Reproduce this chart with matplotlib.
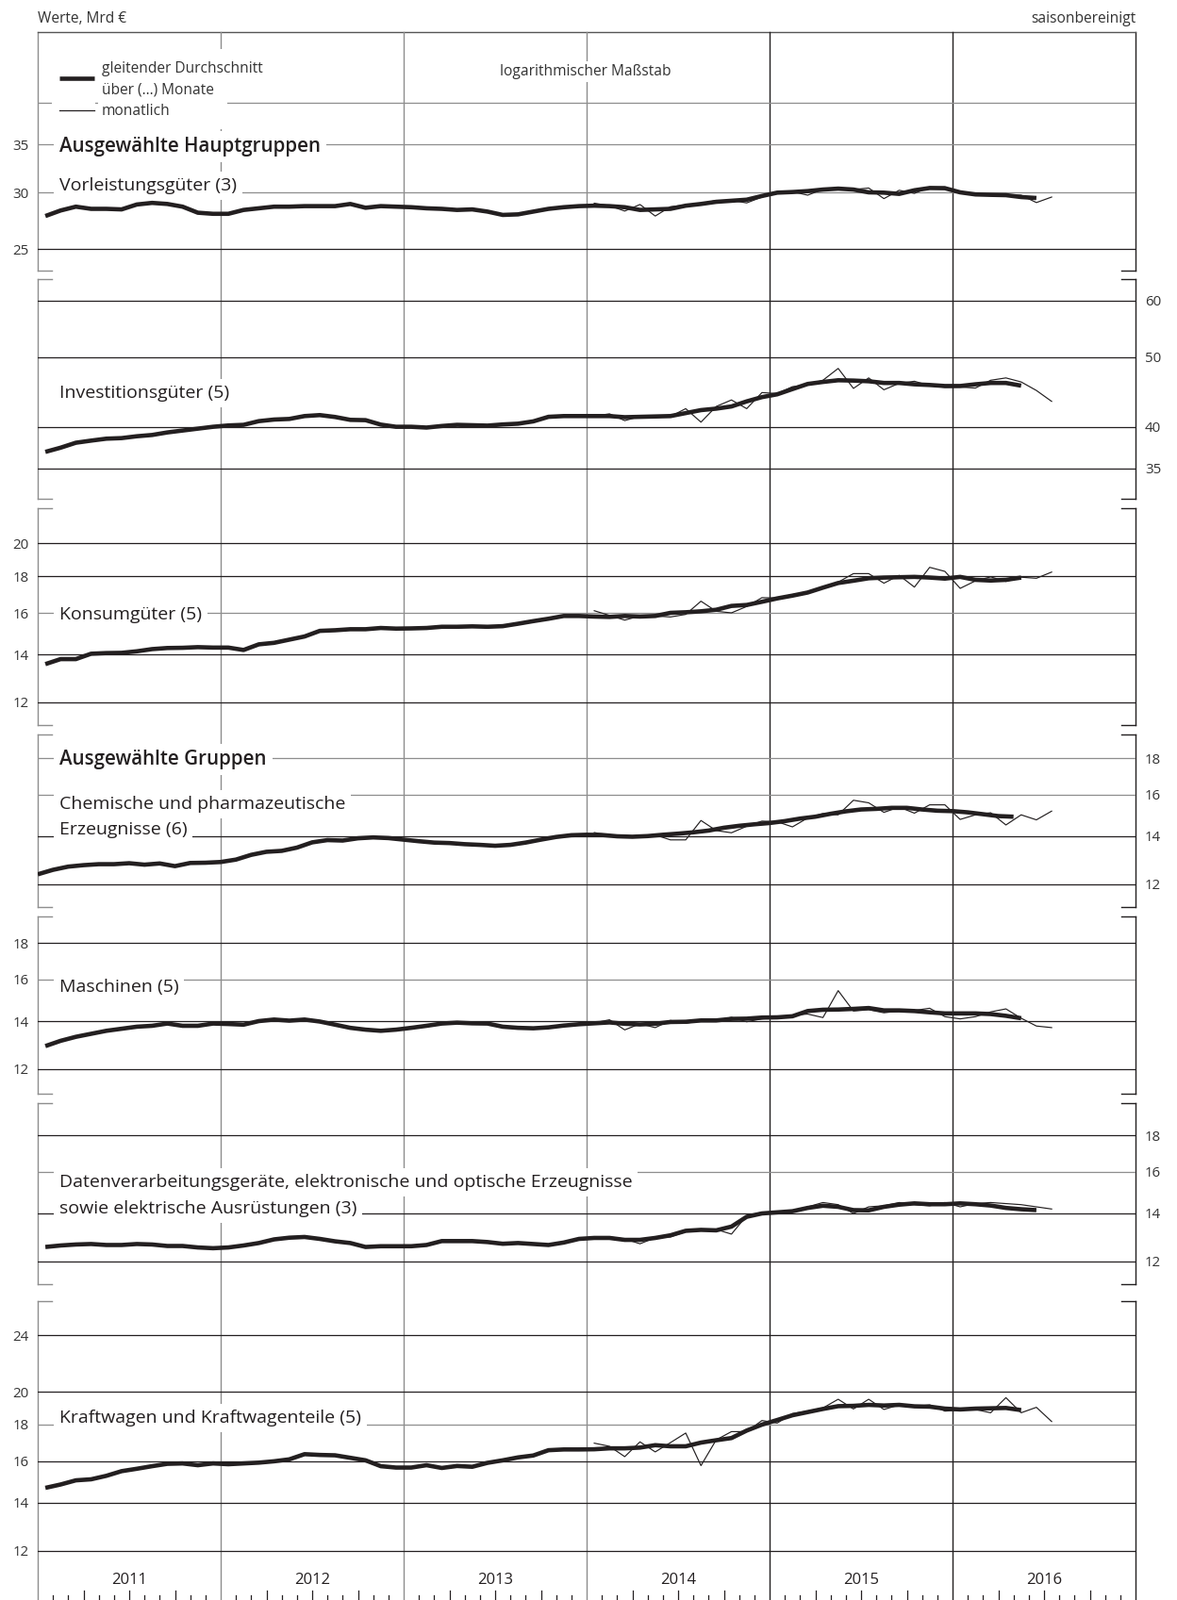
import matplotlib
matplotlib.use("Agg")
import matplotlib.pyplot as plt
import matplotlib.transforms as mtransforms
from matplotlib.patches import Rectangle
import numpy as np

plt.rcParams['font.family'] = ['Open Sans', 'DejaVu Sans']

# ---------------- data (Mrd €, saisonbereinigt) ----------------
years = ["2011", "2012", "2013", "2014", "2015", "2016"]
AVG_START = 0      # moving averages start Jan 2011
MON_START = 36     # monthly values start Jan 2014

vorleistung_avg = [27.8, 28.3, 28.65, 28.45, 28.45, 28.4, 28.85, 29.0, 28.9, 28.65, 28.1, 28.0,
                   28.0, 28.35, 28.5, 28.65, 28.65, 28.7, 28.7, 28.7, 28.9, 28.55, 28.7, 28.65,
                   28.6, 28.5, 28.45, 28.35, 28.4, 28.2, 27.9, 27.95, 28.2, 28.45, 28.6, 28.7,
                   28.74, 28.7, 28.6, 28.35, 28.4, 28.45, 28.74, 28.9, 29.1, 29.2, 29.3, 29.65,
                   29.97, 30.03, 30.12, 30.27, 30.36, 30.27, 30.0, 29.97, 29.85, 30.2, 30.42, 30.4,
                   30.0, 29.8, 29.76, 29.73, 29.55, 29.46]
vorleistung_mon = [28.97, 28.74, 28.25, 28.85, 27.8, 28.65, 28.8, 28.94, 29.23, 29.23, 29.0, 29.55,
                   30.0, 30.06, 29.73, 30.3, 30.46, 30.27, 30.42, 29.4, 30.2, 29.9, 30.52, 30.52,
                   29.9, 29.85, 29.8, 29.73, 29.73, 29.03, 29.55]

investition_avg = [36.9, 37.4, 38.0, 38.26, 38.5, 38.57, 38.8, 38.96, 39.28, 39.52, 39.76, 40.0,
                   40.17, 40.25, 40.73, 40.94, 41.02, 41.4, 41.53, 41.28, 40.9, 40.86, 40.28, 40.0,
                   40.0, 39.9, 40.1, 40.25, 40.2, 40.15, 40.3, 40.4, 40.7, 41.3, 41.4, 41.4,
                   41.4, 41.4, 41.25, 41.3, 41.35, 41.4, 41.8, 42.2, 42.4, 42.7, 43.4, 44.0,
                   44.4, 45.15, 45.9, 46.2, 46.45, 46.4, 46.3, 46.05, 46.05, 45.85, 45.75, 45.6,
                   45.6, 45.85, 46.05, 46.05, 45.65]
investition_mon = [41.4, 41.7, 40.8, 41.35, 41.2, 41.35, 42.4, 40.6, 42.7, 43.6, 42.4, 44.65,
                   44.5, 45.5, 45.75, 46.45, 48.25, 45.25, 46.8, 45.05, 46.0, 46.3, 45.65, 45.4,
                   45.45, 45.3, 46.45, 46.8, 46.2, 44.95, 43.4]

konsum_avg = [13.57, 13.79, 13.79, 14.03, 14.06, 14.07, 14.14, 14.24, 14.29, 14.3, 14.33, 14.31,
              14.31, 14.2, 14.46, 14.53, 14.68, 14.83, 15.1, 15.13, 15.18, 15.18, 15.24, 15.21,
              15.22, 15.24, 15.3, 15.3, 15.32, 15.3, 15.33, 15.45, 15.58, 15.7, 15.84, 15.84,
              15.81, 15.79, 15.84, 15.81, 15.84, 16.0, 16.03, 16.08, 16.16, 16.36, 16.41, 16.58,
              16.76, 16.91, 17.08, 17.35, 17.61, 17.74, 17.88, 17.92, 17.94, 17.96, 17.92, 17.86,
              17.96, 17.79, 17.75, 17.79, 17.92]
konsum_mon = [16.11, 15.87, 15.63, 15.84, 15.84, 15.79, 15.92, 16.61, 16.08, 16.0, 16.33, 16.8,
              16.78, 16.97, 17.08, 17.35, 17.66, 18.15, 18.15, 17.6, 18.05, 17.38, 18.52, 18.28,
              17.31, 17.73, 17.96, 17.7, 17.94, 17.88, 18.24]

chemie_avg = [12.39, 12.57, 12.7, 12.76, 12.8, 12.8, 12.84, 12.78, 12.83, 12.72, 12.85, 12.86,
              12.89, 12.99, 13.19, 13.32, 13.36, 13.5, 13.73, 13.83, 13.81, 13.91, 13.95, 13.92,
              13.85, 13.78, 13.72, 13.7, 13.65, 13.62, 13.58, 13.62, 13.72, 13.85, 13.97, 14.05,
              14.07, 14.06, 14.0, 13.98, 14.01, 14.07, 14.12, 14.18, 14.26, 14.39, 14.48, 14.55,
              14.61, 14.7, 14.82, 14.91, 15.05, 15.17, 15.26, 15.29, 15.34, 15.34, 15.26, 15.2,
              15.18, 15.12, 15.03, 14.94, 14.91]
chemie_mon = [14.17, 14.04, 14.0, 14.03, 14.06, 13.84, 13.84, 14.73, 14.26, 14.16, 14.46, 14.7,
              14.67, 14.43, 14.85, 15.06, 15.0, 15.72, 15.59, 15.12, 15.38, 15.08, 15.49, 15.49,
              14.78, 15.0, 15.1, 14.52, 15.0, 14.76, 15.18]

maschinen_avg = [12.92, 13.14, 13.31, 13.44, 13.57, 13.66, 13.75, 13.79, 13.89, 13.79, 13.79, 13.89,
                 13.87, 13.84, 14.0, 14.07, 14.02, 14.07, 13.98, 13.84, 13.7, 13.62, 13.57, 13.62,
                 13.7, 13.79, 13.89, 13.93, 13.9, 13.89, 13.75, 13.7, 13.68, 13.72, 13.8, 13.86,
                 13.9, 13.94, 13.88, 13.85, 13.88, 13.96, 13.97, 14.03, 14.03, 14.1, 14.11, 14.16,
                 14.17, 14.22, 14.46, 14.52, 14.53, 14.56, 14.6, 14.49, 14.49, 14.46, 14.4, 14.35,
                 14.35, 14.35, 14.32, 14.24, 14.13]
maschinen_mon = [13.92, 14.06, 13.61, 13.88, 13.71, 14.03, 13.9, 14.03, 14.03, 14.17, 13.97, 14.1,
                 14.16, 14.27, 14.32, 14.16, 15.44, 14.46, 14.52, 14.38, 14.46, 14.49, 14.59, 14.2,
                 14.1, 14.2, 14.42, 14.56, 14.13, 13.78, 13.71]

elektro_avg = [12.57, 12.63, 12.67, 12.69, 12.65, 12.65, 12.69, 12.67, 12.61, 12.61, 12.55, 12.52,
               12.55, 12.63, 12.73, 12.88, 12.95, 12.98, 12.9, 12.8, 12.73, 12.57, 12.6, 12.6,
               12.6, 12.65, 12.81, 12.81, 12.81, 12.77, 12.7, 12.73, 12.69, 12.65, 12.75, 12.9,
               12.94, 12.94, 12.86, 12.86, 12.94, 13.05, 13.24, 13.28, 13.26, 13.42, 13.85, 14.0,
               14.05, 14.1, 14.25, 14.35, 14.3, 14.15, 14.14, 14.3, 14.4, 14.46, 14.42, 14.42,
               14.46, 14.42, 14.36, 14.25, 14.19, 14.15]
elektro_mon = [12.9, 12.98, 12.9, 12.7, 12.95, 12.98, 13.2, 13.3, 13.3, 13.1, 13.9, 14.05,
               14.0, 14.1, 14.3, 14.5, 14.4, 14.0, 14.3, 14.35, 14.5, 14.4, 14.35, 14.5,
               14.3, 14.45, 14.5, 14.45, 14.4, 14.3, 14.2]

kfz_avg = [14.69, 14.85, 15.05, 15.1, 15.27, 15.5, 15.62, 15.75, 15.87, 15.89, 15.8, 15.89,
           15.85, 15.89, 15.93, 16.0, 16.1, 16.37, 16.33, 16.31, 16.18, 16.05, 15.75, 15.68,
           15.68, 15.8, 15.66, 15.76, 15.72, 15.92, 16.05, 16.2, 16.3, 16.58, 16.62, 16.62,
           16.63, 16.68, 16.68, 16.72, 16.85, 16.79, 16.79, 16.99, 17.12, 17.24, 17.66, 18.0,
           18.27, 18.55, 18.74, 18.93, 19.1, 19.12, 19.18, 19.14, 19.18, 19.09, 19.07, 18.95,
           18.9, 18.95, 18.97, 18.99, 18.86]
kfz_mon = [16.96, 16.79, 16.24, 17.03, 16.49, 16.99, 17.52, 15.78, 17.14, 17.6, 17.6, 18.24,
           18.09, 18.65, 18.8, 18.99, 19.53, 18.93, 19.53, 18.9, 19.18, 19.09, 19.18, 18.8,
           18.86, 18.9, 18.7, 19.63, 18.7, 19.03, 18.18]

# ---------------- layout (pixels) ----------------
W, H = 1248, 1697
X0, X1 = 40, 1204
NM = 72
PX_DEC = 760.0
DARK = '#231f20'
GRAY = '#8e8e8e'

fig = plt.figure(figsize=(W / 100, H / 100), dpi=100)
bg = fig.add_axes([0, 0, 1, 1], zorder=0)
bg.set_xlim(0, W)
bg.set_ylim(H, 0)
bg.axis('off')


def mx(m):
    return X0 + (X1 - X0) * m / NM


panels = [
    dict(avg=vorleistung_avg, mon=vorleistung_mon, win=3, top=34, bot=287, ref=(30, 204),
         grid=[25, 30, 35, 40], ticks=[25, 30, 35], side='left', gray=[30, 35, 40],
         labels=[("Ausgewählte Hauptgruppen", 161, True), ("Vorleistungsgüter (3)", 202, False)]),
    dict(avg=investition_avg, mon=investition_mon, win=5, top=296, bot=529, ref=(50, 379),
         grid=[35, 40, 50, 60], ticks=[35, 40, 50, 60], side='right', gray=[],
         labels=[("Investitionsgüter (5)", 422, False)]),
    dict(avg=konsum_avg, mon=konsum_mon, win=5, top=539, bot=769, ref=(16, 650),
         grid=[12, 14, 16, 18, 20], ticks=[12, 14, 16, 18, 20], side='left', gray=[16],
         labels=[("Konsumgüter (5)", 657, False)]),
    dict(avg=chemie_avg, mon=chemie_mon, win=6, top=779, bot=962, ref=(14, 887),
         grid=[12, 14, 16, 18], ticks=[12, 14, 16, 18], side='right', gray=[16, 18],
         labels=[("Ausgewählte Gruppen", 811, True), ("Chemische und pharmazeutische", 858, False),
                 ("Erzeugnisse (6)", 885, False)]),
    dict(avg=maschinen_avg, mon=maschinen_mon, win=5, top=972, bot=1160, ref=(14, 1083),
         grid=[12, 14, 16, 18], ticks=[12, 14, 16, 18], side='left', gray=[16],
         labels=[("Maschinen (5)", 1052, False)]),
    dict(avg=elektro_avg, mon=elektro_mon, win=3, top=1170, bot=1362, ref=(14, 1287),
         grid=[12, 14, 16, 18], ticks=[12, 14, 16, 18], side='right', gray=[16],
         labels=[("Datenverarbeitungsgeräte, elektronische und optische Erzeugnisse", 1259, False),
                 ("sowie elektrische Ausrüstungen (3)", 1287, False)]),
    dict(avg=kfz_avg, mon=kfz_mon, win=5, top=1380, bot=1697, ref=(18, 1511),
         grid=[12, 14, 16, 18, 20, 24], ticks=[12, 14, 16, 18, 20, 24], side='left', gray=[18],
         labels=[("Kraftwagen und Kraftwagenteile (5)", 1509, False)]),
]

LBL_SIZE = 14
BOLD_SIZE = 14.8
TICK_SIZE = 10.8
SMALL = 11.2
box = dict(boxstyle='square,pad=0.3', fc='white', ec='none')

axes = []
for i, p in enumerate(panels):
    top, bot = p['top'], p['bot']
    ax = fig.add_axes([X0 / W, 1 - bot / H, (X1 - X0) / W, (bot - top) / H], zorder=1)
    ax.set_xlim(0, NM)
    ax.set_yscale('log')
    rv, rp = p['ref']
    ax.set_ylim(rv * 10 ** ((rp - bot) / PX_DEC), rv * 10 ** ((rp - top) / PX_DEC))
    ax.axis('off')
    axes.append(ax)
    for g in p['grid']:
        ax.axhline(g, color=GRAY if g in p['gray'] else DARK, lw=0.9, zorder=1)
    trans = mtransforms.blended_transform_factory(bg.transData, ax.transData)
    for t in p['ticks']:
        if p['side'] == 'left':
            ax.text(31, t, str(t), transform=trans, ha='right', va='center_baseline',
                    fontsize=TICK_SIZE, color='#333333')
        else:
            ax.text(1214, t, str(t), transform=trans, ha='left', va='center_baseline',
                    fontsize=TICK_SIZE, color='#333333')
    for txt, yb, bold in p['labels']:
        ax.text(63, yb, txt, transform=bg.transData, ha='left', va='baseline',
                fontsize=BOLD_SIZE if bold else LBL_SIZE,
                fontweight='semibold' if bold else 'normal',
                color=DARK, bbox=box, zorder=3)
    # series
    off = 0.0 if p['win'] % 2 == 0 else 0.5
    xa = AVG_START + np.arange(len(p['avg'])) + off
    ax.plot(xa, p['avg'], color=DARK, lw=3.3, solid_joinstyle='round',
            solid_capstyle='butt', zorder=4)
    xm = MON_START + np.arange(len(p['mon'])) + 0.5
    ax.plot(xm, p['mon'], color=DARK, lw=0.85, zorder=5)

    # spines with bracket caps (background)
    bg.plot([X0, X0], [top, bot], color=GRAY, lw=1.0)
    bg.plot([X1, X1], [top, bot], color=DARK, lw=1.0)
    if i == 0:
        bg.plot([X0, X1], [top, top], color='#555555', lw=1.0)
    else:
        bg.plot([X0, X0 + 15], [top, top], color=GRAY, lw=1.0)
        bg.plot([X1 - 15, X1], [top, top], color=DARK, lw=1.0)
    if i < len(panels) - 1:
        bg.plot([X0, X0 + 15], [bot, bot], color=GRAY, lw=1.0)
        bg.plot([X1 - 15, X1], [bot, bot], color=DARK, lw=1.0)

# year lines
for k in range(1, len(years)):
    bg.plot([mx(12 * k)] * 2, [34, H], color=GRAY if k <= 3 else DARK, lw=1.0)

# month ticks at bottom
for m in range(NM + 1):
    if m % 12 == 0:
        continue
    L = 10 if m % 3 == 0 else 5
    bg.plot([mx(m)] * 2, [H, H - L], color=DARK, lw=0.9)

# year labels
for k, y in enumerate(years):
    bg.text(mx(12 * k + 6), 1680, y, ha='center', va='baseline', fontsize=12, color=DARK)

# header
bg.text(X0, 24, "Werte, Mrd €", ha='left', va='baseline', fontsize=SMALL, color='#333333')
bg.text(X1, 24, "saisonbereinigt", ha='right', va='baseline', fontsize=SMALL, color='#333333')

# legend & note inside first panel
ax1 = axes[0]
ax1.add_patch(Rectangle((55, 62), 46, 66, transform=bg.transData, fc='white', ec='none', zorder=2))
ax1.add_patch(Rectangle((104, 52), 137, 85, transform=bg.transData, fc='white', ec='none', zorder=2))
ax1.plot([63, 100], [83, 83], transform=bg.transData, color=DARK, lw=3.3,
         solid_capstyle='butt', zorder=4)
ax1.plot([63, 100], [117, 117], transform=bg.transData, color=DARK, lw=0.9, zorder=4)
ax1.text(108, 77, "gleitender Durchschnitt", transform=bg.transData, ha='left', va='baseline',
         fontsize=SMALL, color='#333333', zorder=3)
ax1.text(108, 99, "über (...) Monate", transform=bg.transData, ha='left', va='baseline',
         fontsize=SMALL, color='#333333', zorder=3)
ax1.text(108, 122, "monatlich", transform=bg.transData, ha='left', va='baseline',
         fontsize=SMALL, color='#333333', zorder=3)
ax1.text(621, 80, "logarithmischer Maßstab", transform=bg.transData, ha='center', va='baseline',
         fontsize=SMALL, color='#333333', zorder=3,
         bbox=dict(boxstyle='square,pad=0.2', fc='white', ec='none'))

fig.savefig('out.png', dpi=100)
